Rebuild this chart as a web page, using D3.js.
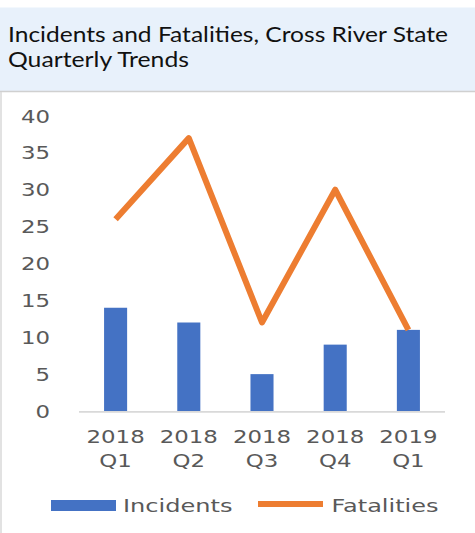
<!DOCTYPE html>
<html>
<head>
<meta charset="utf-8">
<script src="https://cdn.jsdelivr.net/npm/d3@7"></script>
<style>
  html, body { margin: 0; padding: 0; background: #fff; }
  svg { display: block; }
</style>
</head>
<body>
<svg id="chart" width="475" height="533"></svg>
<script>
// Quarterly data, Cross River State
const quarters = ["2018 Q1", "2018 Q2", "2018 Q3", "2018 Q4", "2019 Q1"];
const incidents = [14, 12, 5, 9, 11];
const fatalities = [26, 37, 12, 30, 11];
const yTicks = [0, 5, 10, 15, 20, 25, 30, 35, 40];
const titleLines = ["Incidents and Fatalities, Cross River State", "Quarterly Trends"];
const seriesNames = ["Incidents", "Fatalities"];

const W = 475, H = 533;
const BLUE = "#4472c4", ORANGE = "#ed7d31", LABEL = "#595959", RULE = "#d9d9d9";
const STRETCH = 1.27; // wide lettering used for axis and legend text
const axisFont = "'DejaVu Sans', Verdana, sans-serif";

const svg = d3.select("#chart");

// Title band
svg.append("rect").attr("x", 0).attr("y", 7.5).attr("width", W).attr("height", 84)
  .attr("fill", "#e8f1fb");
svg.append("line").attr("x1", 0).attr("x2", W).attr("y1", 91.5).attr("y2", 91.5)
  .attr("stroke", "#d0d0d0").attr("stroke-width", 1.5);
svg.append("line").attr("x1", 1).attr("x2", 1).attr("y1", 92).attr("y2", H)
  .attr("stroke", RULE).attr("stroke-width", 1.5);

const titleWidths = [440, 181];
titleLines.forEach((t, i) => {
  svg.append("text")
    .attr("x", 8).attr("y", 41.7 + i * 25)
    .attr("font-family", "Lato, 'Open Sans', sans-serif")
    .attr("font-size", 20.5)
    .attr("fill", "#111")
    .attr("textLength", titleWidths[i])
    .attr("lengthAdjust", "spacingAndGlyphs")
    .text(t);
});

// Scales
const x = d3.scaleBand().domain(quarters).range([79, 445]).padding(0);
const y = d3.scaleLinear().domain([0, 40]).range([411, 116]);
const barW = x.bandwidth() * 0.315;
const cx = d => x(d) + x.bandwidth() / 2;

function wideText(g, tx, ty, str, anchor, size, width) {
  const t = g.append("text")
    .attr("transform", `translate(${tx},${ty}) scale(${STRETCH},1)`)
    .attr("text-anchor", anchor)
    .attr("font-family", axisFont)
    .attr("font-size", size)
    .attr("fill", LABEL)
    .text(str);
  if (width) t.attr("textLength", width / STRETCH).attr("lengthAdjust", "spacingAndGlyphs");
  return t;
}

// Y tick labels
const yAxis = svg.append("g");
yTicks.forEach(v => {
  wideText(yAxis, 50, y(v) + 6.5, String(v), "end", 18);
});

// Bars
svg.append("g").selectAll("rect").data(quarters).join("rect")
  .attr("x", (d) => cx(d) - barW / 2)
  .attr("y", (d, i) => y(incidents[i]))
  .attr("width", barW)
  .attr("height", (d, i) => y(0) - y(incidents[i]))
  .attr("fill", BLUE);

// Baseline
svg.append("line").attr("x1", x.range()[0]).attr("x2", x.range()[1])
  .attr("y1", y(0) + 0.8).attr("y2", y(0) + 0.8)
  .attr("stroke", RULE).attr("stroke-width", 1.8);

// Fatalities line
const line = d3.line().x(d => cx(d.q)).y(d => y(d.v));
svg.append("path")
  .datum(quarters.map((q, i) => ({ q, v: fatalities[i] })))
  .attr("d", line)
  .attr("fill", "none")
  .attr("stroke", ORANGE)
  .attr("stroke-width", 6)
  .attr("stroke-linejoin", "round")
  .attr("stroke-linecap", "butt");

// X tick labels (two lines)
const xAxis = svg.append("g");
quarters.forEach(q => {
  const parts = q.split(" ");
  wideText(xAxis, cx(q), 443.3, parts[0], "middle", 18);
  wideText(xAxis, cx(q), 466.7, parts[1], "middle", 18);
});

// Legend
const legend = svg.append("g");
legend.append("rect").attr("x", 51).attr("y", 500).attr("width", 65).attr("height", 11)
  .attr("fill", BLUE);
wideText(legend, 123, 511.5, seriesNames[0], "start", 18, 109.5);
legend.append("line").attr("x1", 258).attr("x2", 323).attr("y1", 504).attr("y2", 504)
  .attr("stroke", ORANGE).attr("stroke-width", 6);
wideText(legend, 331.5, 511.5, seriesNames[1], "start", 18, 107);
</script>
</body>
</html>
